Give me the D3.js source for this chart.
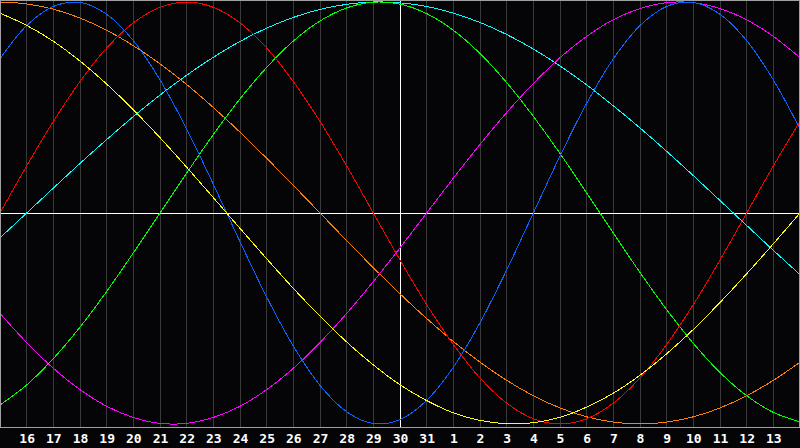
<!DOCTYPE html>
<html><head><meta charset="utf-8">
<script src="https://cdn.jsdelivr.net/npm/d3@7"></script>
<style>html,body{margin:0;padding:0;background:#050507;overflow:hidden}svg{display:block}</style>
</head><body><svg id="c" width="800" height="448"></svg>
<script>
// day-of-month for each column (index 0 = left edge, 30 = right edge)
const days = [15,16,17,18,19,20,21,22,23,24,25,26,27,28,29,30,31,1,2,3,4,5,6,7,8,9,10,11,12,13,14];
const todayIndex = 15;

// cycle values per day
const physical     = [0.731,0.888,0.979,0.998,0.942,0.817,0.631,0.398,0.136,-0.136,-0.398,-0.631,-0.817,-0.942,-0.998,-0.979,-0.888,-0.731,-0.520,-0.270,0,0.270,0.520,0.731,0.888,0.979,0.998,0.942,0.817,0.631,0.398];
const emotional    = [0,0.223,0.434,0.623,0.782,0.901,0.975,1,0.975,0.901,0.782,0.623,0.434,0.223,0,-0.223,-0.434,-0.623,-0.782,-0.901,-0.975,-1,-0.975,-0.901,-0.782,-0.623,-0.434,-0.223,0,0.223,0.434];
const intellectual = [-0.910,-0.815,-0.690,-0.541,-0.372,-0.189,0,0.189,0.372,0.541,0.690,0.815,0.910,0.972,0.999,0.990,0.945,0.866,0.756,0.618,0.458,0.282,0.095,-0.095,-0.282,-0.458,-0.618,-0.756,-0.866,-0.945,-0.990];
const intuitive    = [-0.476,-0.614,-0.736,-0.837,-0.916,-0.969,-0.997,-0.997,-0.969,-0.916,-0.837,-0.736,-0.614,-0.476,-0.325,-0.165,0,0.165,0.325,0.476,0.614,0.736,0.837,0.916,0.969,0.997,0.997,0.969,0.916,0.837,0.736];
const aesthetic    = [0.947,0.889,0.814,0.720,0.611,0.489,0.357,0.217,0.073,-0.073,-0.217,-0.357,-0.489,-0.611,-0.720,-0.814,-0.889,-0.947,-0.983,-0.999,-0.994,-0.968,-0.920,-0.854,-0.769,-0.667,-0.552,-0.424,-0.288,-0.146,0];
const awareness    = [1,0.991,0.966,0.924,0.866,0.793,0.707,0.609,0.5,0.383,0.259,0.131,0,-0.131,-0.259,-0.383,-0.5,-0.609,-0.707,-0.793,-0.866,-0.924,-0.966,-0.991,-1,-0.991,-0.966,-0.924,-0.866,-0.793,-0.707];
const spiritual    = [-0.118,0,0.118,0.235,0.348,0.457,0.559,0.653,0.738,0.813,0.876,0.927,0.965,0.989,1.000,0.996,0.979,0.947,0.903,0.846,0.777,0.697,0.607,0.508,0.403,0.292,0.177,0.059,-0.059,-0.177,-0.292];

const seriesNames  = ["awareness","spiritual","intuitive","intellectual","emotional","physical","aesthetic"];
const seriesData   = [awareness, spiritual, intuitive, intellectual, emotional, physical, aesthetic];
const seriesColors = ["#ff8000","#00ffff","#ff00ff","#00ff00","#ff0000","#0a64ff","#ffff00"];

const W = 800, H = 448, plotBottom = 427;
const svg = d3.select("#c");
svg.append("rect").attr("width",W).attr("height",H).attr("fill","#050507");

const x = d3.scaleLinear().domain([0, days.length - 1]).range([0, W]);
const y = d3.scaleLinear().domain([-1, 1]).range([424, 2]);
const px = v => Math.floor(v) + 0.5;

// vertical grid lines
svg.append("g").selectAll("line").data(d3.range(1, days.length - 1)).join("line")
  .attr("x1", i => px(x(i))).attr("x2", i => px(x(i)))
  .attr("y1", 0).attr("y2", plotBottom)
  .attr("stroke", "#3a3a3a").attr("stroke-width", 1).attr("shape-rendering","crispEdges");

// center lines
svg.append("line").attr("x1",0).attr("x2",W).attr("y1",px(y(0))).attr("y2",px(y(0)))
  .attr("stroke","#ffffff").attr("shape-rendering","crispEdges");
svg.append("line").attr("x1",px(x(todayIndex))).attr("x2",px(x(todayIndex))).attr("y1",0).attr("y2",plotBottom+1)
  .attr("stroke","#ffffff").attr("shape-rendering","crispEdges");

// curves
const line = d3.line().x((d,i) => x(i)).y(d => y(d)).curve(d3.curveCatmullRom.alpha(0.5));
svg.append("g").selectAll("path").data(seriesData).join("path")
  .attr("d", line).attr("fill","none")
  .attr("stroke", (d,i) => seriesColors[i]).attr("stroke-width", 1)
  .attr("shape-rendering","crispEdges");

// border
svg.append("rect").attr("x",0.5).attr("y",0.5).attr("width",W-1).attr("height",plotBottom)
  .attr("fill","none").attr("stroke","#a0a0a0").attr("shape-rendering","crispEdges");

// day labels
svg.append("g").selectAll("text").data(d3.range(1, days.length - 1)).join("text")
  .attr("x", i => x(i) + 0.5).attr("y", 443)
  .attr("text-anchor","middle")
  .attr("font-family","DejaVu Sans Mono, monospace").attr("font-weight","bold").attr("font-size","13px")
  .attr("fill","#ffffff")
  .text(i => days[i]);
</script>
</body></html>
